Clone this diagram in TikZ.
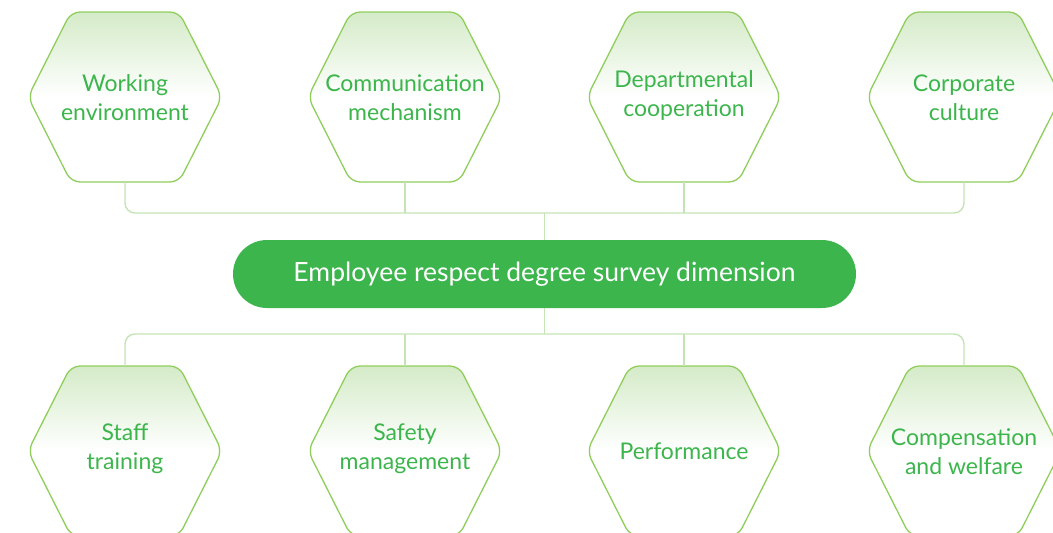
\documentclass[tikz,border=0pt]{standalone}
\usepackage{fontspec}
\setmainfont{Lato}
\definecolor{mgreen}{RGB}{60,182,76}
\definecolor{hexline}{RGB}{144,206,92}
\definecolor{hextop}{RGB}{212,235,200}
\definecolor{conn}{RGB}{196,228,182}
\pgfdeclareverticalshading{hexshade}{100bp}{color(0bp)=(white); color(50bp)=(white); color(75bp)=(hextop); color(100bp)=(hextop)}
\tikzset{
  hexshape/.style={draw=hexline, line width=1.3pt, rounded corners=9pt, shading=hexshade},
  hexlabel/.style={text=mgreen, font=\fontsize{23}{29}\selectfont, align=center},
  conline/.style={draw=conn, line width=1.4pt, rounded corners=10pt},
  pill/.style={fill=mgreen, rounded corners=34pt, minimum width=623pt, minimum height=68pt, text=white, font=\fontsize{26.5}{30}\selectfont}
}
\newcommand{\hexat}[3]{%
  \path[hexshape] (#1-97,#2) -- (#1-54,#2-85) -- (#1+54,#2-85) -- (#1+97,#2) -- (#1+54,#2+85) -- (#1-54,#2+85) -- cycle;
  \coordinate (#3t) at (#1,#2-85);
  \coordinate (#3b) at (#1,#2+85);
}
\begin{document}
\begin{tikzpicture}[x=1pt,y=-1pt]
\useasboundingbox (0,0) rectangle (1053,533);
\clip (0,0) rectangle (1053,533);
% central node
\node[pill] (c) at (544.5,274) {Employee respect degree survey dimension};
% hexagons
\hexat{125}{97}{a}
\hexat{405}{97}{b}
\hexat{684}{97}{d}
\hexat{964}{97}{e}
\hexat{125}{451}{f}
\hexat{405}{451}{g}
\hexat{684}{451}{h}
\hexat{964}{451}{k}
\node[hexlabel] (A) at (125,98) {Working\\environment};
\node[hexlabel] (B) at (405,98) {Communication\\mechanism};
\node[hexlabel] (D) at (684,96) {Departmental\\cooperation};
\node[hexlabel] (E) at (964,98) {Corporate\\culture};
\node[hexlabel] (F) at (125,449) {Staff\\training};
\node[hexlabel] (G) at (405,449) {Safety\\management};
\node[hexlabel] (H) at (684,451) {Performance};
\node[hexlabel] (K) at (964,452) {Compensation\\and welfare};
% connectors top
\coordinate (jt) at (544.5,213);
\coordinate (jb) at (544.5,334);
\draw[conline] (ab) -- (125,213) -- (964,213) -- (eb);
\draw[conline, rounded corners=0pt] (bb) -- (405,213);
\draw[conline, rounded corners=0pt] (db) -- (684,213);
\draw[conline, rounded corners=0pt] (jt) -- (c.north);
% bottom
\draw[conline] (ft) -- (125,334) -- (964,334) -- (kt);
\draw[conline, rounded corners=0pt] (gt) -- (405,334);
\draw[conline, rounded corners=0pt] (ht) -- (684,334);
\draw[conline, rounded corners=0pt] (c.south) -- (jb);
\end{tikzpicture}
\end{document}
